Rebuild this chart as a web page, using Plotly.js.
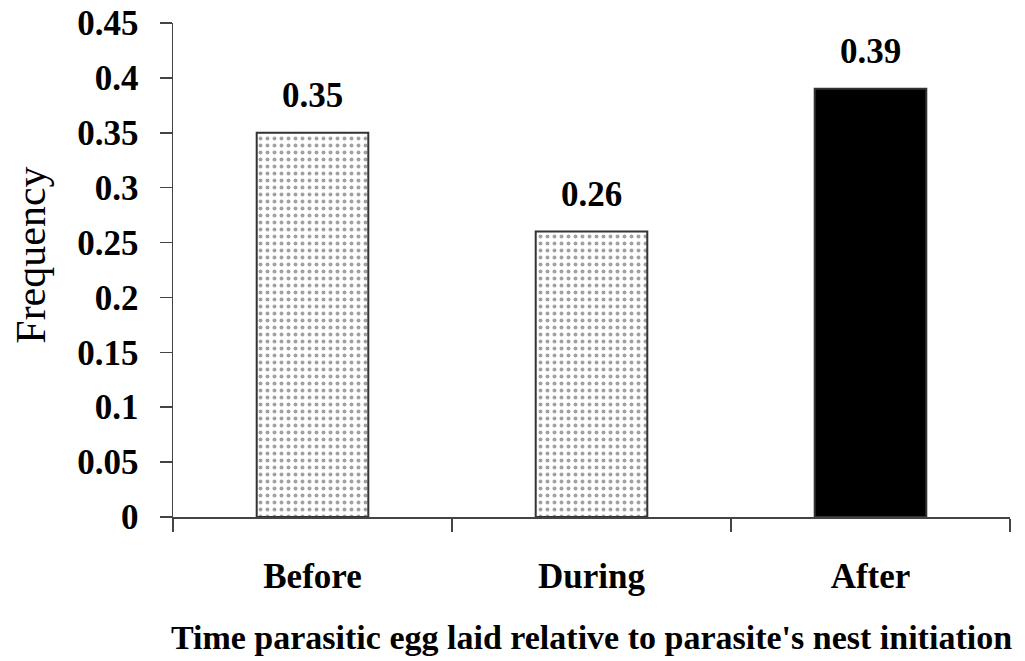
<!DOCTYPE html>
<html><head><meta charset="utf-8">
<script src="https://cdn.plot.ly/plotly-3.0.1.min.js"></script>
<style>body{margin:0;background:#fff}#c{width:1025px;height:661px}</style>
</head><body><div id="c"></div>
<script>
const categories = ["Before", "During", "After"];
const frequency = [0.35, 0.26, 0.39];
const valueLabels = ["0.35", "0.26", "0.39"];
const yTickVals = [0, 0.05, 0.1, 0.15, 0.2, 0.25, 0.3, 0.35, 0.4, 0.45];
const yTickText = ["0", "0.05", "0.1", "0.15", "0.2", "0.25", "0.3", "0.35", "0.4", "0.45"];

const serif = "Liberation Serif, Times New Roman, serif";
const trace = {
  type: "bar",
  x: categories,
  y: frequency,
  width: 0.4,
  hoverinfo: "none",
  marker: {
    color: ["#ffffff", "#ffffff", "#000000"],
    line: {color: "#333", width: 2},
    pattern: {shape: [".", ".", ""], fgcolor: "#777", bgcolor: "#ffffff", size: 7, solidity: 0.25, fillmode: "overlay"}
  }
};
const annotations = categories.map((c, i) => ({
  x: c, y: frequency[i], xref: "x", yref: "y",
  text: valueLabels[i], showarrow: false,
  yanchor: "bottom", yshift: 16,
  font: {family: serif, size: 35, color: "#000", weight: "bold"}
}));
annotations.push({
  text: "Frequency", xref: "paper", yref: "paper", x: -0.169, y: 0.53,
  xanchor: "center", yanchor: "middle", textangle: -90, showarrow: false,
  font: {family: serif, size: 42, color: "#000"}
});
const layout = {
  width: 1025, height: 661,
  margin: {l: 173, r: 15, t: 23, b: 144},
  paper_bgcolor: "#fff", plot_bgcolor: "#fff",
  showlegend: false,
  annotations: annotations,
  xaxis: {
    type: "category",
    tickson: "boundaries",
    ticks: "outside", ticklen: 13, tickwidth: 1.5, tickcolor: "#444",
    showline: true, linecolor: "#444", linewidth: 1.5,
    showgrid: false, zeroline: false,
    ticklabelstandoff: 27,
    tickfont: {family: serif, size: 35, color: "#000", weight: "bold"},
    title: {text: "Time parasitic egg laid relative to parasite's nest initiation", standoff: 30,
      font: {family: serif, size: 34, color: "#000", weight: "bold"}}
  },
  yaxis: {
    range: [0, 0.45],
    tickvals: yTickVals, ticktext: yTickText,
    ticks: "outside", ticklen: 12, tickwidth: 1.5, tickcolor: "#444",
    showline: true, linecolor: "#444", linewidth: 1.5,
    showgrid: false, zeroline: false,
    ticklabelstandoff: 14,
    tickfont: {family: serif, size: 35, color: "#000", weight: "bold"}
  }
};
Plotly.newPlot("c", [trace], layout, {displayModeBar: false, staticPlot: true});
</script></body></html>
